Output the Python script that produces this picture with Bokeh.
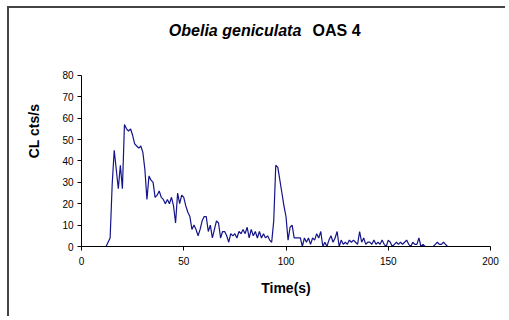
from bokeh.plotting import figure
from bokeh.models import Label, FixedTicker, Range1d
from bokeh.embed import file_html
from bokeh.resources import INLINE

# time (s)
time_s = [12, 13, 14, 15, 16, 17, 18, 19, 20, 21, 22, 23, 24, 25, 26, 27, 28, 29, 30,
          31, 32, 33, 34, 35, 36, 37, 38, 39, 40, 41, 42, 43, 44, 45, 46, 47, 48, 49, 50,
          51, 52, 53, 54, 55, 56, 57, 58, 59, 60, 61, 62, 63, 64, 65, 66, 67, 68, 69, 70,
          71, 72, 73, 74, 75, 76, 77, 78, 79, 80, 81, 82, 83, 84, 85, 86, 87, 88, 89, 90,
          91, 92, 93, 94, 95, 96, 97, 98, 99, 100, 101, 102, 103, 104, 105, 106, 107, 108,
          109, 110, 111, 112, 113, 114, 115, 116, 117, 118, 119, 120, 121, 122, 123, 124,
          125, 126, 127, 128, 129, 130, 131, 132, 133, 134, 135, 136, 137, 138, 139, 140,
          141, 142, 143, 144, 145, 146, 147, 148, 149, 150, 151, 152, 153, 154, 155, 156,
          157, 158, 159, 160, 161, 162, 163, 164, 165, 166, 167, 168, 169, 170, 171, 172,
          173, 174, 175, 176, 177, 178, 179]
# CL counts per second
cl_cts = [0, 2, 4, 29, 45, 36, 27, 38, 27, 57, 55, 54, 55, 52, 48, 47, 46, 47, 44,
          36, 22, 33, 31, 30, 23, 24, 26, 23, 22, 20, 22, 20, 23, 19, 11, 25, 20, 24, 23,
          19, 16, 14, 8, 10, 8, 5, 8, 12, 14, 14, 7, 10, 4, 8, 12, 11, 4, 7, 7,
          5, 2, 6, 5, 6, 4, 7, 6, 8, 6, 9, 4, 8, 5, 7, 4, 7, 4, 6, 4,
          5, 3, 2, 12, 38, 37, 31, 25, 19, 14, 3, 9, 10, 4, 4, 4, 4, 0,
          4, 2, 4, 1, 4, 3, 6, 4, 7, 0, 2, 0, 3, 5, 2, 4,
          7, 0, 3, 1, 2, 1, 3, 2, 3, 2, 1, 7, 2, 4, 1, 2,
          2, 1, 3, 1, 2, 1, 3, 1, 0, 3, 2, 0, 1, 2, 1, 2,
          1, 2, 3, 1, 0, 2, 1, 1, 4, 0, 1, 0, 0, 0, 0, 0,
          1, 2, 1, 1, 2, 1, 0]

x_ticks = [0, 50, 100, 150, 200]
y_ticks = [0, 10, 20, 30, 40, 50, 60, 70, 80]

title_species = "Obelia geniculata"
title_code = "OAS 4"

p = figure(width=498, height=310, output_backend="svg", toolbar_location=None,
           x_range=Range1d(0, 200), y_range=Range1d(0, 108),
           min_border_left=72, min_border_right=17, min_border_top=7, min_border_bottom=72,
           styles={"border-left": "2px solid #444", "border-top": "2px solid #444",
                   "margin-left": "7px", "margin-top": "6px"})
p.outline_line_color = None
p.grid.visible = False
p.background_fill_color = "white"
p.border_fill_color = "white"

p.line(time_s, cl_cts, line_color="#14148a", line_width=1.2)

for ax in (p.xaxis[0], p.yaxis[0]):
    ax.axis_line_color = "black"
    ax.axis_line_width = 1
    ax.major_tick_line_color = "black"
    ax.major_tick_in = 0
    ax.major_tick_out = 4
    ax.minor_tick_line_color = None
    ax.major_label_text_font = "Liberation Sans"
    ax.major_label_text_font_size = "10px"
    ax.major_label_text_color = "black"
    ax.axis_label_text_font = "Liberation Sans"
    ax.axis_label_text_font_style = "bold"
    ax.axis_label_text_font_size = "14px"
    ax.axis_label_text_color = "black"

p.xaxis.ticker = FixedTicker(ticks=x_ticks)
p.yaxis.ticker = FixedTicker(ticks=y_ticks)
p.yaxis.bounds = (0, 80)
p.xaxis.axis_label = "Time(s)"
p.yaxis.axis_label = "CL cts/s"
p.xaxis.major_label_standoff = 6
p.yaxis.major_label_standoff = 4
p.xaxis.axis_label_standoff = 12
p.yaxis.axis_label_standoff = 17

p.add_layout(Label(x=107.5, y=101, text=title_species, text_align="right",
                   text_baseline="middle", text_font="Liberation Sans",
                   text_font_style="bold italic", text_font_size="16px",
                   text_color="black"))
p.add_layout(Label(x=113, y=101, text=title_code, text_align="left",
                   text_baseline="middle", text_font="Liberation Sans",
                   text_font_style="bold", text_font_size="16px",
                   text_color="black"))

open("out.html", "w").write(file_html(p, INLINE))
